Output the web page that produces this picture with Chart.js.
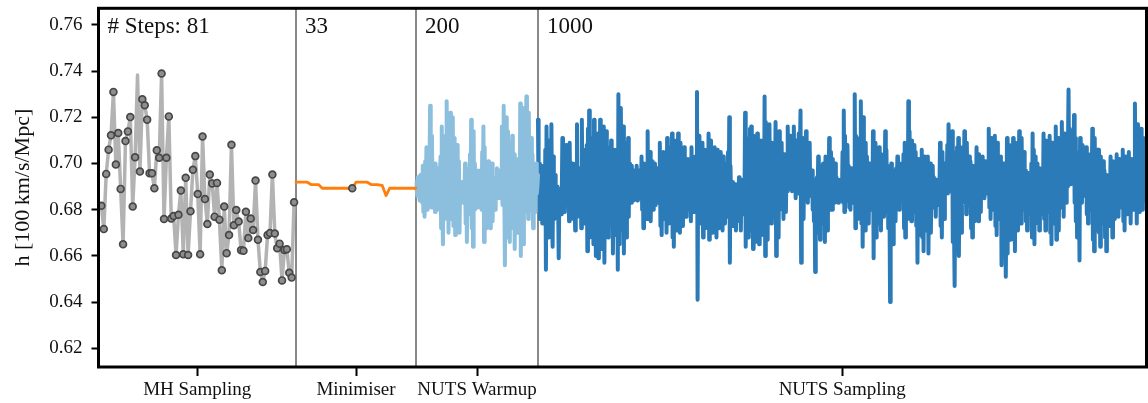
<!DOCTYPE html>
<html><head><meta charset="utf-8">
<script src="https://cdn.jsdelivr.net/npm/chart.js@4.4.1/dist/chart.umd.min.js"></script>
<style>html,body{margin:0;padding:0;background:#fff}canvas{display:block}</style>
</head><body>
<canvas id="c" width="1148" height="403"></canvas>
<script>
// ---------------- data ----------------
const stageNames = ['MH Sampling', 'Minimiser', 'NUTS Warmup', 'NUTS Sampling'];
const stepLabels = ['# Steps: 81', '33', '200', '1000'];
const yTickValues = [0.62, 0.64, 0.66, 0.68, 0.70, 0.72, 0.74, 0.76];
const yTitle = 'h [100\u2009km/s/Mpc]';

const mhValues = [
0.6817,0.6716,0.6955,0.7060,0.7122,0.7310,0.6996,0.7132,0.6890,0.6650,
0.7097,0.7139,0.7201,0.6814,0.7027,0.7383,0.6965,0.7278,0.7252,0.7190,
0.6958,0.6958,0.6893,0.7057,0.7025,0.7390,0.6760,0.7025,0.7204,0.6762,
0.6773,0.6604,0.6778,0.6883,0.6607,0.6938,0.6604,0.6793,0.6973,0.7032,
0.6868,0.6607,0.7117,0.6846,0.6738,0.6952,0.6914,0.6770,0.6916,0.6757,
0.6538,0.6814,0.6612,0.6690,0.7081,0.6733,0.6799,0.6749,0.6625,0.6622,
0.6791,0.6677,0.6762,0.6712,0.6926,0.6670,0.6530,0.6487,0.6535,0.6691,
0.6699,0.6952,0.6697,0.6633,0.6653,0.6494,0.6626,0.6629,0.6527,0.6506,
0.6832];
const mhHiddenMarkers = [15];

const minimiserValues = [
0.6919,0.6919,0.6919,0.6919,0.6909,0.6909,0.6909,0.6893,0.6893,0.6893,
0.6893,0.6893,0.6893,0.6893,0.6893,0.6893,0.6919,0.6919,0.6919,0.6919,
0.6909,0.6909,0.6908,0.6905,0.6861,0.6893,0.6893,0.6893,0.6893,0.6893,
0.6893,0.6893,0.6893];
const minimiserMarkerStep = 15;

const warmupValues = [
.689,.692,.686,.694,.688,.690,.684,.695,.687,.693,
.683,.699,.679,.692,.677,.701,.686,.707,.680,.694,
.688,.682,.697,.725,.690,.681,.712,.686,.700,.684,
.695,.679,.700,.685,.692,.680,.698,.688,.683,.694,
.703,.672,.716,.680,.665,.709,.690,.676,.712,.684,
.727,.682,.718,.670,.705,.693,.722,.676,.700,.688,
.720,.673,.711,.687,.669,.702,.680,.708,.677,.695,
.701,.670,.692,.684,.690,.686,.692,.683,.689,.687,
.700,.674,.695,.666,.690,.682,.698,.678,.704,.684,
.719,.672,.708,.664,.714,.680,.700,.688,.695,.681,
.693,.681,.697,.686,.690,.683,.696,.680,.705,.688,
.716,.666,.707,.676,.699,.672,.694,.684,.701,.678,
.698,.672,.691,.686,.700,.675,.693,.683,.689,.680,
.694,.686,.698,.688,.692,.685,.697,.689,.693,.687,
.716,.682,.710,.725,.689,.656,.700,.676,.720,.668,
.714,.674,.705,.666,.709,.690,.683,.712,.672,.698,
.704,.663,.697,.678,.702,.670,.693,.684,.699,.676,
.726,.660,.719,.672,.712,.665,.724,.684,.703,.679,
.729,.690,.718,.676,.722,.685,.707,.694,.711,.680,
.704,.672,.698,.683,.694,.679,.700,.687,.690,.695];

const samplingValues = [
.719,.683,.700,.676,.694,.688,.699,.674,.692,.684,
.690,.679,.706,.654,.716,.681,.697,.668,.710,.686,
.698,.672,.717,.683,.664,.703,.689,.676,.695,.682,
.688,.680,.690,.684,.659,.686,.681,.689,.678,.685,
.711,.683,.706,.679,.701,.686,.708,.690,.682,.695,
.693,.675,.709,.684,.696,.680,.700,.688,.676,.691,
.689,.671,.700,.683,.717,.677,.694,.686,.698,.681,
.692,.672,.719,.680,.706,.685,.691,.674,.703,.688,
.708,.662,.715,.676,.723,.668,.700,.682,.711,.670,
.696,.665,.719,.672,.709,.660,.702,.679,.713,.659,
.705,.668,.719,.675,.712,.663,.698,.683,.716,.657,
.700,.670,.714,.684,.707,.668,.695,.678,.703,.689,
.710,.674,.698,.661,.702,.680,.706,.669,.690,.683,
.697,.654,.730,.665,.719,.676,.724,.683,.707,.671,
.716,.661,.709,.674,.703,.668,.697,.685,.711,.677,
.700,.685,.696,.683,.699,.688,.694,.684,.697,.686,
.691,.686,.699,.684,.695,.688,.697,.685,.693,.689,
.703,.680,.696,.672,.700,.683,.698,.676,.694,.688,
.714,.676,.699,.683,.705,.675,.692,.688,.701,.680,
.695,.684,.700,.682,.693,.687,.698,.683,.691,.689,
.709,.673,.702,.669,.697,.681,.705,.676,.690,.685,
.700,.670,.711,.679,.695,.674,.707,.684,.698,.681,
.713,.668,.704,.664,.710,.677,.699,.671,.706,.686,
.713,.680,.701,.670,.709,.683,.697,.673,.704,.687,
.707,.684,.699,.677,.693,.686,.702,.680,.690,.688,
.696,.675,.707,.683,.701,.679,.693,.686,.703,.681,
.690,.731,.641,.699,.680,.712,.674,.705,.684,.695,
.709,.668,.703,.681,.706,.672,.697,.686,.700,.677,
.713,.667,.705,.682,.710,.674,.699,.670,.704,.684,
.707,.676,.702,.668,.706,.683,.698,.672,.701,.686,
.705,.680,.699,.671,.703,.686,.694,.674,.700,.688,
.697,.677,.705,.681,.720,.657,.699,.683,.692,.686,
.692,.673,.689,.680,.691,.671,.688,.684,.690,.679,
.694,.675,.690,.671,.693,.682,.689,.678,.692,.685,
.722,.664,.711,.678,.706,.668,.702,.683,.715,.672,
.716,.671,.709,.663,.712,.679,.704,.666,.700,.684,
.713,.673,.706,.665,.701,.680,.710,.669,.696,.686,
.707,.672,.729,.660,.718,.676,.704,.667,.711,.683,
.717,.679,.705,.674,.709,.684,.700,.677,.702,.688,
.718,.660,.710,.675,.704,.668,.714,.681,.699,.686,
.709,.680,.700,.676,.704,.685,.697,.679,.702,.688,
.716,.689,.707,.692,.712,.690,.705,.688,.709,.694,
.716,.690,.704,.685,.710,.692,.701,.687,.713,.689,
.706,.723,.657,.700,.681,.711,.676,.697,.685,.693,
.714,.690,.705,.683,.700,.688,.709,.686,.696,.691,
.697,.680,.693,.675,.690,.653,.688,.678,.694,.683,
.703,.670,.697,.667,.699,.680,.694,.674,.700,.684,
.698,.666,.703,.677,.695,.671,.701,.684,.711,.680,
.705,.682,.699,.680,.702,.686,.696,.683,.700,.688,
.694,.685,.691,.683,.693,.687,.690,.684,.692,.686,
.705,.683,.723,.679,.712,.688,.700,.684,.708,.690,
.699,.681,.695,.680,.698,.686,.693,.683,.697,.688,
.730,.672,.712,.681,.706,.676,.699,.685,.711,.680,
.727,.674,.718,.664,.720,.679,.702,.671,.709,.684,
.703,.677,.697,.674,.700,.683,.694,.680,.699,.686,
.714,.659,.705,.675,.709,.668,.698,.682,.703,.687,
.707,.674,.700,.671,.704,.683,.696,.677,.702,.686,
.714,.679,.706,.686,.699,.672,.691,.684,.640,.688,
.700,.671,.694,.665,.697,.682,.692,.675,.698,.686,
.703,.683,.697,.680,.700,.686,.694,.684,.699,.688,
.704,.672,.709,.668,.701,.681,.698,.676,.727,.689,
.714,.680,.706,.675,.710,.686,.700,.679,.708,.688,
.705,.673,.698,.657,.702,.679,.693,.669,.700,.684,
.706,.668,.699,.662,.703,.677,.695,.671,.701,.685,
.703,.661,.697,.676,.700,.670,.694,.682,.699,.686,
.694,.681,.691,.677,.693,.685,.689,.682,.692,.687,
.709,.673,.702,.668,.705,.681,.698,.676,.700,.687,
.700,.690,.708,.687,.717,.692,.703,.688,.711,.693,
.714,.666,.705,.672,.647,.690,.699,.678,.707,.684,
.711,.660,.703,.677,.707,.670,.698,.683,.704,.687,
.714,.684,.705,.678,.709,.688,.700,.682,.703,.690,
.701,.672,.696,.668,.699,.680,.693,.675,.698,.685,
.707,.680,.700,.675,.704,.686,.697,.679,.702,.688,
.703,.688,.698,.685,.701,.690,.696,.687,.700,.689,
.715,.681,.707,.676,.711,.686,.700,.680,.704,.689,
.712,.673,.705,.669,.709,.682,.699,.676,.703,.686,
.703,.656,.697,.672,.700,.663,.694,.678,.651,.684,
.711,.661,.705,.674,.708,.667,.700,.680,.703,.685,
.711,.667,.706,.662,.709,.677,.701,.671,.704,.685,
.714,.678,.707,.674,.711,.684,.702,.680,.705,.688,
.697,.675,.693,.671,.696,.682,.691,.678,.695,.686,
.700,.668,.713,.677,.706,.665,.703,.681,.698,.686,
.700,.674,.695,.671,.698,.683,.692,.678,.697,.686,
.713,.676,.706,.671,.710,.683,.701,.679,.704,.688,
.712,.670,.704,.665,.709,.680,.699,.674,.706,.686,
.716,.667,.708,.677,.711,.671,.702,.683,.706,.688,
.718,.681,.709,.677,.713,.687,.704,.683,.708,.690,
.705,.732,.696,.715,.691,.709,.697,.712,.694,.703,
.721,.683,.711,.675,.705,.668,.698,.679,.694,.658,
.711,.685,.704,.683,.708,.689,.700,.686,.703,.691,
.707,.678,.701,.674,.704,.685,.697,.680,.702,.688,
.715,.667,.708,.662,.711,.676,.703,.671,.706,.685,
.706,.670,.700,.664,.703,.679,.696,.674,.701,.686,
.697,.668,.692,.662,.695,.678,.690,.673,.694,.684,
.703,.673,.697,.668,.701,.681,.694,.676,.699,.686,
.704,.680,.699,.677,.702,.686,.695,.681,.700,.688,
.706,.675,.700,.671,.703,.683,.696,.678,.701,.687,
.705,.678,.699,.674,.702,.685,.695,.680,.700,.688,
.726,.680,.712,.674,.717,.686,.705,.679,.709,.690,
.715,.683,.707,.680,.711,.688,.702,.684,.706,.694];

// ---------------- layout / style ----------------
const SERIF = '"Liberation Serif", "DejaVu Serif", serif';
const Y_MIN = 0.6119, Y_MAX = 0.7672;
const segWidths = [197.5, 120, 122, 608.5];          // panel widths along the x axis
const segStarts = segWidths.map((w, i) => segWidths.slice(0, i).reduce((a, b) => a + b, 0));
const X_MAX = segWidths.reduce((a, b) => a + b, 0);
const segCenters = segStarts.map((s, i) => s + segWidths[i] / 2);

const mhPos = i => segStarts[0] + segWidths[0] * (i + 1.2) / 82;
const panelPos = (k, n) => j => segStarts[k] + segWidths[k] * j / (n - 1);
const minPos = panelPos(1, minimiserValues.length);
const warmPos = panelPos(2, warmupValues.length);
const sampPos = panelPos(3, samplingValues.length);

const mhData = mhValues.map((v, i) => ({x: mhPos(i), y: v}));
const minData = minimiserValues.map((v, j) => ({x: minPos(j), y: v}));
const warmData = warmupValues.map((v, j) => ({x: warmPos(j), y: v}));
const sampData = samplingValues.map((v, j) => ({x: sampPos(j), y: v}));
const markerData = [{x: minPos(minimiserMarkerStep), y: minimiserValues[minimiserMarkerStep]}];

const lineBase = {pointRadius: 0, borderJoinStyle: 'round', borderCapStyle: 'round', tension: 0, fill: false};
const separators = segStarts.slice(1).map(b => ({
  ...lineBase, data: [{x: b, y: Y_MIN}, {x: b, y: Y_MAX}],
  borderColor: '#3a3a3a', borderWidth: 1.2, borderCapStyle: 'butt', order: 10
}));

const markerStyle = {pointBackgroundColor: '#8e8e8e', pointBorderColor: '#474747', pointBorderWidth: 1.7, pointHoverRadius: 0};

const datasets = [
  {...lineBase, ...markerStyle, data: markerData, showLine: false, pointRadius: 3.4, order: 0},
  {...lineBase, ...markerStyle, data: mhData, borderColor: '#b3b3b3', borderWidth: 3.5,
    pointRadius: c => mhHiddenMarkers.includes(c.dataIndex) ? 0 : 3.4, order: 1},
  {...lineBase, data: minData, borderColor: '#ff7f0e', borderWidth: 2.8, order: 2},
  {...lineBase, data: warmData, borderColor: '#8bbfdd', borderWidth: 4, order: 3},
  {...lineBase, data: sampData, borderColor: '#2c7bb9', borderWidth: 4, order: 4},
  ...separators
];

const noPad = s => { s.paddingTop = 0; s.paddingBottom = 0; s.paddingLeft = 0; s.paddingRight = 0; };

const framePlugin = {
  id: 'frame',
  afterDatasetsDraw(chart) {
    const {ctx, chartArea: a} = chart;
    ctx.save();
    ctx.lineWidth = 3;
    ctx.strokeStyle = '#000';
    ctx.strokeRect(a.left, a.top, a.right - a.left, a.bottom - a.top);
    ctx.restore();
  }
};
const stepTextPlugin = {
  id: 'stepText',
  afterDraw(chart) {
    const {ctx, scales: {x}} = chart;
    ctx.save();
    ctx.fillStyle = '#111';
    ctx.font = '23px ' + SERIF;
    ctx.textBaseline = 'alphabetic';
    ctx.textAlign = 'left';
    stepLabels.forEach((t, i) => ctx.fillText(t, x.getPixelForValue(segStarts[i]) + 9, 33));
    ctx.restore();
  }
};

new Chart(document.getElementById('c'), {
  type: 'line',
  data: {datasets},
  options: {
    responsive: false, animation: false, devicePixelRatio: 1,
    layout: {autoPadding: false, padding: {left: 0, top: 8.3, right: 1.5, bottom: 0}},
    plugins: {legend: {display: false}, tooltip: {enabled: false}},
    events: [],
    scales: {
      x: {
        type: 'linear', min: 0, max: X_MAX,
        afterFit(s) { s.height = 36; noPad(s); },
        afterBuildTicks(s) { s.ticks = segCenters.map(v => ({value: v})); },
        ticks: {autoSkip: false, maxRotation: 0, minRotation: 0, padding: 3, color: '#111',
          font: {family: SERIF, size: 19}, callback: (v, i) => stageNames[i]},
        grid: {drawOnChartArea: false, drawTicks: true, tickLength: 9, tickWidth: 2, tickColor: '#000'},
        border: {display: false}
      },
      y: {
        min: Y_MIN, max: Y_MAX,
        afterFit(s) { s.width = 98.5; noPad(s); },
        afterBuildTicks(s) { s.ticks = yTickValues.map(v => ({value: v})); },
        ticks: {padding: 9, color: '#111', font: {family: SERIF, size: 19}, callback: v => Number(v).toFixed(2)},
        grid: {drawOnChartArea: false, drawTicks: true, tickLength: 7, tickWidth: 2, tickColor: '#000'},
        border: {display: false},
        title: {display: true, text: yTitle, color: '#111', font: {family: SERIF, size: 22}, padding: {top: 10, bottom: 0}}
      }
    }
  },
  plugins: [framePlugin, stepTextPlugin]
});
</script>
</body></html>
